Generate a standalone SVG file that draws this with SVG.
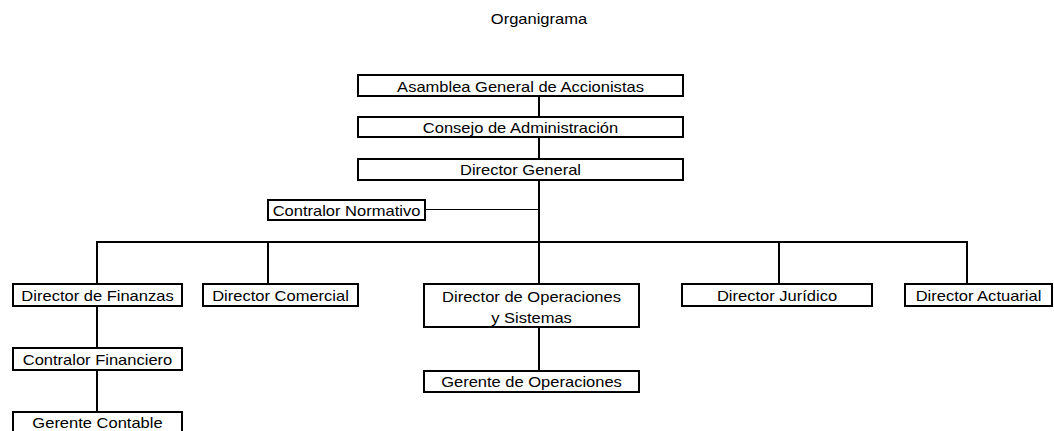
<svg xmlns="http://www.w3.org/2000/svg" width="1054" height="431" viewBox="0 0 1054 431">
<style>
.box{fill:#fff;stroke:#000;stroke-width:2}
.t{font-family:"Liberation Sans",Arial,sans-serif;font-size:14px;fill:#000;text-anchor:middle}
.c{stroke:#000;stroke-width:2;fill:none}
.thin{stroke:#000;stroke-width:1;fill:none}
</style>
<rect width="1054" height="431" fill="#fff"/>
<text class="t" transform="translate(539 24) scale(1.18 1)">Organigrama</text>
<g id="connectors">
<line class="c" x1="539" y1="96" x2="539" y2="284"/>
<line class="thin" x1="425" y1="209.5" x2="539" y2="209.5"/>
<line class="c" x1="96" y1="242" x2="968" y2="242"/>
<line class="c" x1="97" y1="242" x2="97" y2="284"/>
<line class="c" x1="268" y1="242" x2="268" y2="284"/>
<line class="c" x1="779" y1="242" x2="779" y2="284"/>
<line class="c" x1="967" y1="242" x2="967" y2="284"/>
<line class="c" x1="97" y1="306" x2="97" y2="412"/>
<line class="c" x1="539" y1="327" x2="539" y2="371"/>
</g>
<g id="asamblea"><rect class="box" x="358" y="75" width="325" height="21"/><text class="t" transform="translate(520.5 91.5) scale(1.18 1)">Asamblea General de Accionistas</text></g>
<g id="consejo"><rect class="box" x="358" y="117" width="325" height="20"/><text class="t" transform="translate(520.5 133) scale(1.18 1)">Consejo de Administración</text></g>
<g id="director-general"><rect class="box" x="358" y="159" width="325" height="21"/><text class="t" transform="translate(520.5 175) scale(1.18 1)">Director General</text></g>
<g id="contralor-normativo"><rect class="box" x="268" y="200" width="157" height="20"/><text class="t" transform="translate(346.5 215.5) scale(1.18 1)">Contralor Normativo</text></g>
<g id="dir-finanzas"><rect class="box" x="13" y="284" width="169" height="22"/><text class="t" transform="translate(97.5 300.5) scale(1.18 1)">Director de Finanzas</text></g>
<g id="dir-comercial"><rect class="box" x="203" y="284" width="155" height="22"/><text class="t" transform="translate(280.5 300.5) scale(1.18 1)">Director Comercial</text></g>
<g id="dir-operaciones"><rect class="box" x="424" y="284" width="215" height="43"/><text class="t" transform="translate(531.5 301.5) scale(1.18 1)">Director de Operaciones</text><text class="t" transform="translate(531.5 322.5) scale(1.18 1)">y Sistemas</text></g>
<g id="dir-juridico"><rect class="box" x="682" y="284" width="190" height="22"/><text class="t" transform="translate(777 300.5) scale(1.18 1)">Director Jurídico</text></g>
<g id="dir-actuarial"><rect class="box" x="905" y="284" width="147" height="22"/><text class="t" transform="translate(978.5 300.5) scale(1.18 1)">Director Actuarial</text></g>
<g id="contralor-financiero"><rect class="box" x="13" y="348" width="169" height="22"/><text class="t" transform="translate(97.5 364.5) scale(1.18 1)">Contralor Financiero</text></g>
<g id="gerente-operaciones"><rect class="box" x="424" y="371" width="215" height="21"/><text class="t" transform="translate(531.5 387) scale(1.18 1)">Gerente de Operaciones</text></g>
<g id="gerente-contable"><rect class="box" x="13" y="412" width="169" height="22"/><text class="t" transform="translate(97.5 428) scale(1.18 1)">Gerente Contable</text></g>
</svg>
